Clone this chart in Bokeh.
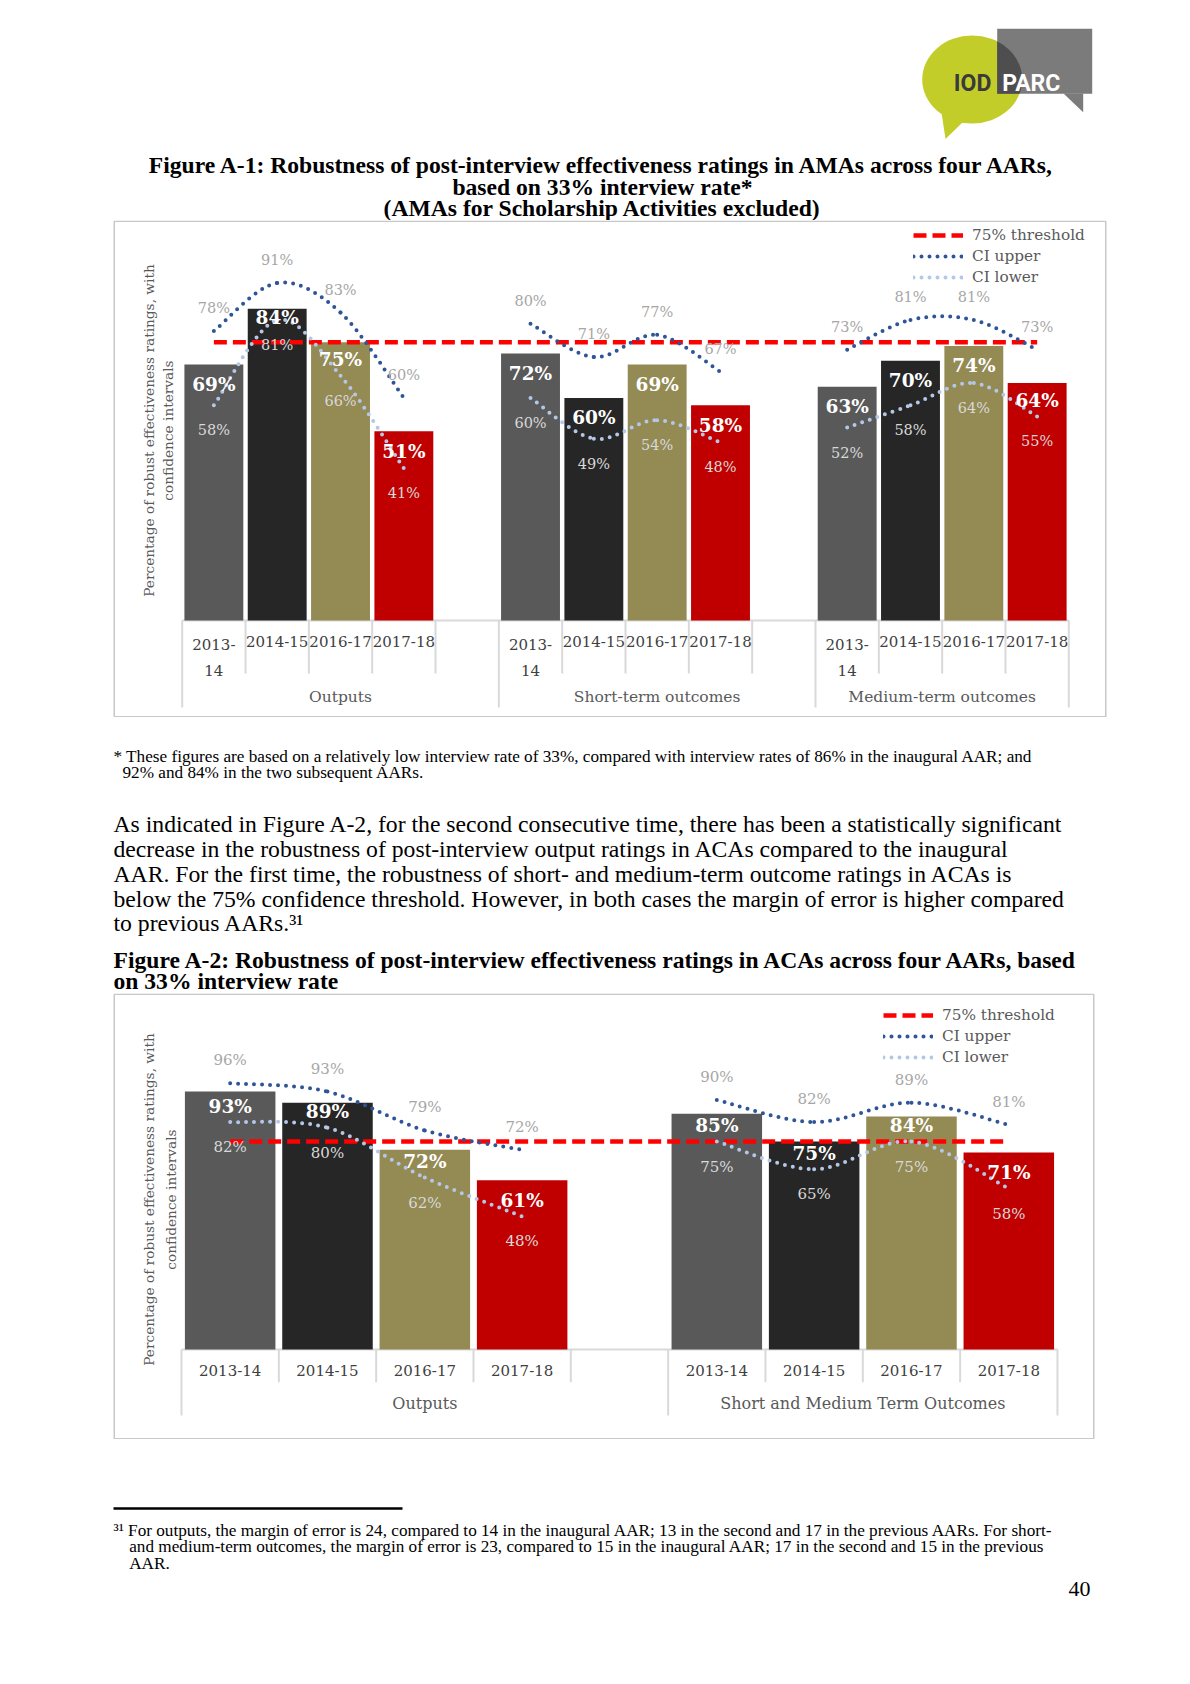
import numpy as np
from bokeh.plotting import figure
from bokeh.models import Range1d, Legend, LegendItem, ColumnDataSource
from bokeh.layouts import column
from bokeh.core.properties import value
from bokeh.embed import file_html
from bokeh.resources import INLINE

# ---------------- data ----------------
years = ["2013-14", "2014-15", "2016-17", "2017-18"]
year_colors = ["#595959", "#262626", "#948a54", "#c00000"]
threshold = 75

# Figure A-1 (AMAs)
a1_groups = ["Outputs", "Short-term outcomes", "Medium-term outcomes"]
a1_tick_labels = ["2013-\n14", "2014-15", "2016-17", "2017-18"]
a1_slots = [5, 5, 4]          # category slots per group (blank spacer slot included)
a1_outputs = [69, 84, 75, 51]
a1_short = [72, 60, 69, 58]
a1_medium = [63, 70, 74, 64]
a1_upper_outputs = [78, 91, 83, 60]
a1_upper_short = [80, 71, 77, 67]
a1_upper_medium = [73, 81, 81, 73]
a1_lower_outputs = [58, 81, 66, 41]
a1_lower_short = [60, 49, 54, 48]
a1_lower_medium = [52, 58, 64, 55]

# Figure A-2 (ACAs)
a2_groups = ["Outputs", "Short and Medium Term Outcomes"]
a2_tick_labels = ["2013-14", "2014-15", "2016-17", "2017-18"]
a2_slots = [5, 4]
a2_outputs = [93, 89, 72, 61]
a2_outcomes = [85, 75, 84, 71]
a2_upper_outputs = [96, 93, 79, 72]
a2_upper_outcomes = [90, 82, 89, 81]
a2_lower_outputs = [82, 80, 62, 48]
a2_lower_outcomes = [75, 65, 75, 58]

legend_labels = ["75% threshold", "CI upper", "CI lower"]
ytitle = "Percentage of robust effectiveness ratings, with\nconfidence intervals"

# ---------------- helpers ----------------
CF = value("DejaVu Serif")
TF = value("Liberation Serif")
PAGE_W = 1190


def curve_segments(xs, ys):
    seg = {k: [] for k in ("x0", "y0", "x1", "y1", "cx0", "cy0", "cx1", "cy1")}
    n = len(xs)
    for i in range(n - 1):
        a = max(i - 1, 0)
        d = min(i + 2, n - 1)
        seg["x0"].append(xs[i]); seg["y0"].append(ys[i])
        seg["x1"].append(xs[i + 1]); seg["y1"].append(ys[i + 1])
        seg["cx0"].append(xs[i] + (xs[i + 1] - xs[a]) / 6)
        seg["cy0"].append(ys[i] + (ys[i + 1] - ys[a]) / 6)
        seg["cx1"].append(xs[i + 1] - (xs[d] - xs[i]) / 6)
        seg["cy1"].append(ys[i + 1] - (ys[d] - ys[i]) / 6)
    return seg


def merge(segs):
    out = {k: [] for k in segs[0]}
    for s in segs:
        for k in s:
            out[k] += s[k]
    return out


def chart(groups, ticks, slots, vals, ups, lows, *, top_px, bot_px, box_right, base_px, ppu,
          slot0_px, slot_w, grp_off, sep_short, sep_long, yt_xy, yt_lh,
          leg_loc, ci_size, val_size, grp_size):
    h = bot_px - top_px
    X = lambda px: (px - slot0_px) / slot_w
    Y = lambda py: (base_px - py) / ppu
    p = figure(width=PAGE_W, height=h, x_range=Range1d(X(0), X(PAGE_W)),
               y_range=Range1d(Y(bot_px), Y(top_px)),
               x_axis_type=None, y_axis_type=None, toolbar_location=None,
               output_backend="svg", min_border=0)
    p.outline_line_color = None
    p.background_fill_color = "white"
    p.border_fill_color = "white"

    # chart border
    p.quad(left=[X(113.75)], right=[X(box_right - 0.75)], top=[Y(top_px + 0.75)],
           bottom=[Y(bot_px - 0.75)], fill_color=None, line_color="#c8c8c8", line_width=1.5)

    starts = np.cumsum([0] + slots[:-1])
    total = int(sum(slots))

    xs, tops, cols, upv, lov, gx = [], [], [], [], [], []
    up_segs, lo_segs = [], []
    for g, s0 in enumerate(starts):
        cx = [float(s0 + i + 0.5) for i in range(len(years))]
        xs += cx
        tops += vals[g]
        cols += year_colors
        upv += ups[g]
        lov += lows[g]
        gx.append(float(s0 + slots[g] / 2))
        up_segs.append(curve_segments(cx, ups[g]))
        lo_segs.append(curve_segments(cx, lows[g]))

    # axis line and category separators
    p.segment(x0=[0], y0=[0], x1=[total], y1=[0], line_color="#d9d9d9", line_width=2)
    bounds = set(int(s) for s in starts) | {total}
    kx = list(range(total + 1))
    ky = [-(sep_long if k in bounds else sep_short) / ppu for k in kx]
    p.segment(x0=kx, y0=[0] * len(kx), x1=kx, y1=ky, line_color="#d9d9d9", line_width=2)

    # bars
    p.vbar(x=xs, top=tops, bottom=0, width=0.93, fill_color=cols, line_color=None)

    # threshold + CI curves
    cx_all = [k + 0.5 for k in range(total)]
    thr = p.line(x=cx_all, y=[threshold] * total, line_color="#ff0000", line_width=4.5,
                 line_dash="13 6")
    up = p.bezier(source=ColumnDataSource(merge(up_segs)), x0="x0", y0="y0", x1="x1", y1="y1",
                  cx0="cx0", cy0="cy0", cx1="cx1", cy1="cy1", line_color="#2f5597",
                  line_width=4, line_dash="0 8", line_cap="round")
    lo = p.bezier(source=ColumnDataSource(merge(lo_segs)), x0="x0", y0="y0", x1="x1", y1="y1",
                  cx0="cx0", cy0="cy0", cx1="cx1", cy1="cy1", line_color="#b4c7e7",
                  line_width=4, line_dash="0 8", line_cap="round")

    # data labels (value label sits inside the bar top, nudged up when the CI point is close)
    val_offs = [float(np.clip((v - l) * ppu - 16, 9, 20)) for v, l in zip(tops, lov)]
    p.text(x=xs, y=upv, text=[f"{v}%" for v in upv], text_font=CF, text_font_size=f"{ci_size}px",
           text_color="#a6a6a6", text_align="center", text_baseline="middle", y_offset=-23)
    p.text(x=xs, y=lov, text=[f"{v}%" for v in lov], text_font=CF, text_font_size=f"{ci_size}px",
           text_color="#d9d9d9", text_align="center", text_baseline="middle", y_offset=25)
    p.text(x=xs, y=tops, text=[f"{v}%" for v in tops], text_font=CF, text_font_size=f"{val_size}px",
           text_font_style="bold", text_color="white", text_align="center",
           text_baseline="middle", y_offset=val_offs)

    # category tick labels and group labels
    p.text(x=xs, y=[0] * len(xs), text=ticks * len(groups), text_font=CF, text_font_size="15px",
           text_color="#404040", text_align="center", text_baseline="top", y_offset=15,
           text_line_height=1.45)
    p.text(x=gx, y=[0] * len(gx), text=groups, text_font=CF, text_font_size=f"{grp_size}px",
           text_color="#595959", text_align="center", text_baseline="middle", y_offset=grp_off)

    # value-axis title
    p.text(x=[X(yt_xy[0])], y=[Y(yt_xy[1])], text=[ytitle], text_font=CF, text_font_size="13.7px",
           text_color="#595959", text_align="center", text_baseline="middle", angle=np.pi / 2,
           text_line_height=yt_lh)

    legend = Legend(items=[LegendItem(label=legend_labels[0], renderers=[thr]),
                           LegendItem(label=legend_labels[1], renderers=[up]),
                           LegendItem(label=legend_labels[2], renderers=[lo])],
                    location=leg_loc, orientation="vertical", glyph_width=50, glyph_height=20,
                    label_height=20, label_standoff=9, spacing=1, padding=0, margin=0,
                    border_line_color=None, background_fill_alpha=0,
                    label_text_font="DejaVu Serif", label_text_font_size="15.3px",
                    label_text_color="#595959")
    p.add_layout(legend)
    return p


def sheet(top, h):
    p = figure(width=PAGE_W, height=h, x_range=Range1d(0, PAGE_W), y_range=Range1d(top + h, top),
               x_axis_type=None, y_axis_type=None, toolbar_location=None,
               output_backend="svg", min_border=0)
    p.outline_line_color = None
    p.background_fill_color = "white"
    p.border_fill_color = "white"
    return p


def put(p, x, y, s, size, style="normal", color="#000000", align="left", font=TF):
    # y is the wanted baseline; the renderer sets alphabetic text about 0.3em low
    p.text(x=[x], y=[y], text=[s], text_font=font, text_font_size=f"{size}px",
           text_font_style=style, text_color=color, text_align=align, text_baseline="alphabetic",
           y_offset=-0.3 * size)


BODY = 23.7
HEAD = 23.6
NOTE = 17.2

# ---------------- header (page y 0..220) ----------------
hdr = sheet(0, 220)
hdr.ellipse(x=[971.7], y=[79], width=[100], height=[88], fill_color="#c3cd2a", line_color=None)
hdr.patch([941, 945, 963], [112, 138.5, 121], fill_color="#c3cd2a", line_color=None)
hdr.quad(left=[996.7], right=[1091.7], top=[28.3], bottom=[93.3], fill_color="#7b7b7b", line_color=None)
hdr.patch([1063, 1082.7, 1082.7], [93, 111.7, 93], fill_color="#7b7b7b", line_color=None)
t = np.linspace(-np.pi / 3, np.arcsin((93.3 - 79) / 44), 40)
ox = list(971.7 + 50 * np.cos(t)) + [996.7]
oy = list(79 + 44 * np.sin(t)) + [93.3]
hdr.patch(ox, oy, fill_color="#4e4e4e", line_color=None)
put(hdr, 953.3, 90.3, "IOD", 23, "bold", "#3a3a3a", font=value("Roboto"))
put(hdr, 1001.7, 90.3, "PARC", 23, "bold", "#ffffff", font=value("Roboto"))
title_a1 = ["Figure A-1: Robustness of post-interview effectiveness ratings in AMAs across four AARs,",
            "based on 33% interview rate*",
            "(AMAs for Scholarship Activities excluded)"]
for s, y in zip(title_a1, [171.5, 193.5, 214.5]):
    put(hdr, 602, y, s, HEAD, "bold", align="center")

# ---------------- chart A-1 (page y 220..717) ----------------
p1 = chart(a1_groups, a1_tick_labels, a1_slots,
           [a1_outputs, a1_short, a1_medium],
           [a1_upper_outputs, a1_upper_short, a1_upper_medium],
           [a1_lower_outputs, a1_lower_short, a1_lower_medium],
           top_px=220, bot_px=717, box_right=1106, base_px=620, ppu=3.71,
           slot0_px=181.7, slot_w=63.33, grp_off=76, sep_short=53, sep_long=87,
           yt_xy=(158, 430), yt_lh=1.2, leg_loc=(913, 430), ci_size=14.5, val_size=18.5,
           grp_size=15.5)

# ---------------- middle text (page y 717..993) ----------------
mid = sheet(717, 276)
put(mid, 113, 760.7, "* These figures are based on a relatively low interview rate of 33%, compared with "
    "interview rates of 86% in the inaugural AAR; and", NOTE)
put(mid, 122, 777.3, "92% and 84% in the two subsequent AARs.", NOTE)
para = ["As indicated in Figure A-2, for the second consecutive time, there has been a statistically significant",
        "decrease in the robustness of post-interview output ratings in ACAs compared to the inaugural",
        "AAR. For the first time, the robustness of short- and medium-term outcome ratings in ACAs is",
        "below the 75% confidence threshold. However, in both cases the margin of error is higher compared",
        "to previous AARs.\u00b3\u00b9"]
for i, s in enumerate(para):
    put(mid, 113, 830.5 + 24.9 * i, s, BODY)
put(mid, 113, 966.5, "Figure A-2: Robustness of post-interview effectiveness ratings  in ACAs across four AARs, based",
    HEAD, "bold")
put(mid, 113, 987.5, "on 33% interview rate", HEAD, "bold")

# ---------------- chart A-2 (page y 993..1439) ----------------
p2 = chart(a2_groups, a2_tick_labels, a2_slots,
           [a2_outputs, a2_outcomes],
           [a2_upper_outputs, a2_upper_outcomes],
           [a2_lower_outputs, a2_lower_outcomes],
           top_px=993, bot_px=1439, box_right=1094, base_px=1349, ppu=2.773,
           slot0_px=181, slot_w=97.33, grp_off=54, sep_short=32.7, sep_long=66,
           yt_xy=(159.5, 1199), yt_lh=1.35, leg_loc=(883, 372), ci_size=15, val_size=18.5,
           grp_size=16)

# ---------------- bottom (page y 1439..1684) ----------------
bot = sheet(1439, 245)
bot.quad(left=[113], right=[402], top=[1506.8], bottom=[1509.3], fill_color="#000000", line_color=None)
put(bot, 113, 1535.5, "\u00b3\u00b9 For outputs, the margin of error is 24, compared to 14 in the inaugural AAR; "
    "13 in the second and 17 in the previous AARs. For short-", NOTE)
put(bot, 128.7, 1551.5, "and medium-term outcomes, the margin of error is 23, compared to 15 in the inaugural "
    "AAR; 17 in the second and 15 in the previous", NOTE)
put(bot, 128.7, 1568, "AAR.", NOTE)
put(bot, 1090, 1595, "40", 22, align="right")

layout = column(hdr, p1, mid, p2, bot, spacing=0)
open("out.html", "w").write(file_html(layout, INLINE))
